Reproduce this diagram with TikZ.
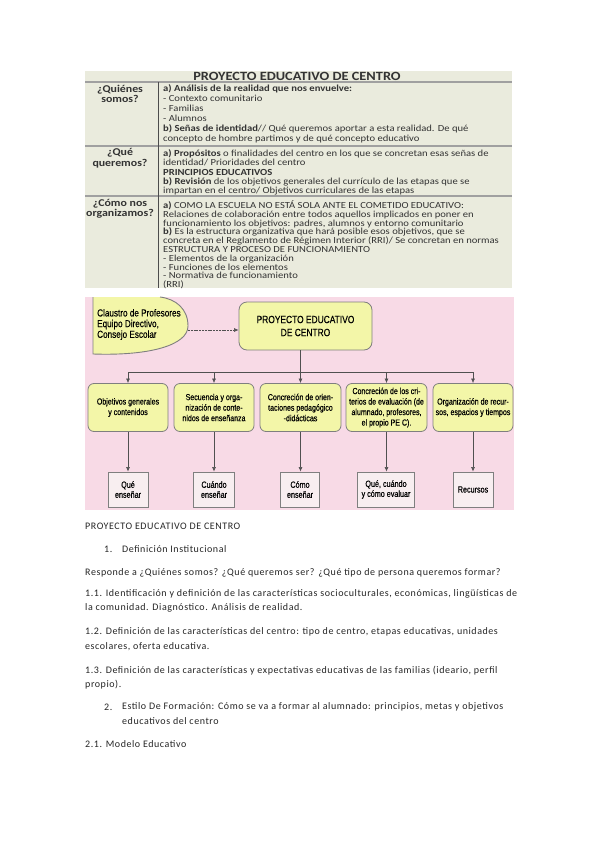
\documentclass[tikz,border=0pt]{standalone}
\usepackage{fontspec}
\setmainfont{Carlito}
\newfontfamily\narrowfont[FakeStretch=0.8, FakeBold=0.35]{Liberation Sans}
\newfontfamily\tabfont[FakeStretch=1.14]{Carlito}
\newfontfamily\bodyfont[LetterSpace=5.6]{Carlito}
\usetikzlibrary{arrows.meta}
\definecolor{tablebg}{HTML}{EAEBDD}
\definecolor{tableline}{HTML}{A0A0A0}
\definecolor{pinkbg}{HTML}{F8DAE6}
\definecolor{yellowbox}{HTML}{F3F6A8}
\definecolor{boxline}{HTML}{7F7F7F}
\definecolor{smallbox}{HTML}{F8EEF0}
\definecolor{txt}{HTML}{333333}
\definecolor{conncol}{HTML}{505050}
\tikzset{
  tabtxt/.style={inner sep=0pt, anchor=north west, align=left, text=txt},
  tabhead/.style={inner sep=0pt, align=center, text=txt, font=\tabfont\bfseries\fontsize{10.4}{10.5}\selectfont},
  ybox/.style={draw=boxline, fill=yellowbox, rounded corners=6pt, line width=0.8pt, align=center, inner sep=1pt, font=\narrowfont\fontsize{8.8}{10.5}\selectfont},
  sbox/.style={draw=boxline, fill=smallbox, line width=0.9pt, align=center, inner sep=1pt, font=\narrowfont\fontsize{9}{10}\selectfont},
  conn/.style={draw=conncol, line width=0.6pt},
  arr/.style={conn, -{Latex[length=4.5pt,width=4pt]}},
  body/.style={anchor=west, inner sep=0pt, text=black!85, font=\bodyfont\fontsize{10}{12}\selectfont},
}
\begin{document}
\begin{tikzpicture}[x=1pt,y=-1pt]
\useasboundingbox[fill=white] (0,0) rectangle (599,848);

% ---------- table ----------
\fill[tablebg] (85,71) rectangle (512,288);
\draw[tableline, line width=1.3pt] (85,82) -- (512,82);
\draw[tableline, line width=1.3pt] (85,146) -- (512,146);
\draw[tableline, line width=1.3pt] (85,196) -- (512,196);
\draw[black!70, line width=0.8pt] (158,82) -- (158,288);
\node[font=\tabfont\bfseries\fontsize{12.6}{13}\selectfont, text=txt, inner sep=0pt] (ttitle) at (297,76.5) {PROYECTO EDUCATIVO DE CENTRO};

\begin{scope}
\clip (85,71) rectangle (512,288);
\node[tabhead] (q1) at (120,94) {¿Quiénes\\somos?};
\node[tabhead] (q2) at (120,158) {¿Qué\\queremos?};
\node[tabhead] (q3) at (120,209) {¿Cómo nos\\organizamos?};
\end{scope}

\node[tabtxt, font=\tabfont\fontsize{9.3}{10.1}\selectfont] (r1) at (163,84) {%
\textbf{a) Análisis de la realidad que nos envuelve:}\\
- Contexto comunitario\\
- Familias\\
- Alumnos\\
\textbf{b) Señas de identidad}// Qué queremos aportar a esta realidad. De qué\\
concepto de hombre partimos y de qué concepto educativo};

\node[tabtxt, font=\tabfont\fontsize{9.3}{9.3}\selectfont] (r2) at (163,149.5) {%
\textbf{a) Propósitos} o finalidades del centro en los que se concretan esas señas de\\
identidad/ Prioridades del centro\\
\textbf{PRINCIPIOS EDUCATIVOS}\\
\textbf{b) Revisión} de los objetivos generales del currículo de las etapas que se\\
impartan en el centro/ Objetivos curriculares de las etapas};

\node[tabtxt, font=\tabfont\fontsize{9.3}{8.8}\selectfont] (r3) at (163,200.5) {%
\textbf{a)} COMO LA ESCUELA NO ESTÁ SOLA ANTE EL COMETIDO EDUCATIVO:\\
Relaciones de colaboración entre todos aquellos implicados en poner en\\
funcionamiento los objetivos: padres, alumnos y entorno comunitario\\
\textbf{b)} Es la estructura organizativa que hará posible esos objetivos, que se\\
concreta en el Reglamento de Régimen Interior (RRI)/ Se concretan en normas\\
ESTRUCTURA Y PROCESO DE FUNCIONAMIENTO\\
- Elementos de la organización\\
- Funciones de los elementos\\
- Normativa de funcionamiento\\
(RRI)};

% ---------- diagram ----------
\fill[pinkbg] (85,297) rectangle (514,510);
\fill[yellowbox] (93,297) -- (93,354) .. controls (150,356) and (188,345) .. (188,326)
   .. controls (188,309) and (176,299) .. (160,297) -- cycle;
\draw[boxline, line width=0.9pt] (93,297) -- (93,354) .. controls (150,356) and (188,345) .. (188,326)
   .. controls (188,309) and (176,299) .. (160,297);
\node[anchor=west, align=left, inner sep=0pt, font=\narrowfont\fontsize{10.2}{10.7}\selectfont] (claustro) at (97,324.5)
  {Claustro de Profesores\\Equipo Directivo,\\Consejo Escolar};
\coordinate (claustroE) at (188,330);

\node[ybox, minimum width=133pt, minimum height=48pt, rounded corners=8pt,
      font=\narrowfont\fontsize{10.5}{13}\selectfont] (pec) at (305.5,326) {PROYECTO EDUCATIVO\\DE CENTRO};
\draw[arr, dash pattern=on 2pt off 0.8pt] (claustroE) -- (claustroE -| pec.west);

\node[ybox, minimum width=80pt, minimum height=48pt] (b1) at (128,407.5) {Objetivos generales\\y contenidos};
\node[ybox, minimum width=80pt, minimum height=48pt] (b2) at (214,407.5) {Secuencia y orga-\\nización de conte-\\nidos de enseñanza};
\node[ybox, minimum width=81pt, minimum height=48pt] (b3) at (300.5,407.5) {Concreción de orien-\\taciones pedagógico\\-didácticas};
\node[ybox, minimum width=81pt, minimum height=48pt] (b4) at (386.5,407.5) {Concreción de los cri-\\terios de evaluación (de\\alumnado, profesores,\\el propio PE C).};
\node[ybox, minimum width=80pt, minimum height=48pt] (b5) at (473,407.5) {Organización de recur-\\sos, espacios y tiempos};

\coordinate (hub) at (300,372);
\draw[conn] (pec.south -| hub) -- (hub);
\draw[conn] (hub -| b1.north) -- (hub -| b5.north);
\foreach \b in {b1,b2,b3,b4,b5} {
  \draw[arr] (hub -| \b.north) -- (\b.north);
}

\node[sbox, minimum width=40pt, minimum height=35pt] (s1) at (128,489.5) {Qué\\enseñar};
\node[sbox, minimum width=41pt, minimum height=35pt] (s2) at (214,489.5) {Cuándo\\enseñar};
\node[sbox, minimum width=39pt, minimum height=35pt] (s3) at (300,489.5) {Cómo\\enseñar};
\node[sbox, minimum width=57pt, minimum height=35pt] (s4) at (386,489.5) {Qué, cuándo\\y cómo evaluar};
\node[sbox, minimum width=40pt, minimum height=35pt] (s5) at (473,489.5) {Recursos};
\foreach \i in {1,...,5} {
  \draw[arr] (b\i.south) -- (b\i.south |- s\i.north);
}

% ---------- body text ----------
\node[body] (t1) at (85,526) {PROYECTO EDUCATIVO DE CENTRO};
\node[body] (n1) at (104,549) {1.};
\node[body] (t2) at (122,549) {Definición Institucional};
\node[body] (t3) at (85,573) {Responde a ¿Quiénes somos? ¿Qué queremos ser? ¿Qué tipo de persona queremos formar?};
\node[body] (t4) at (85,594) {1.1. Identificación y definición de las características socioculturales, económicas, lingüísticas de};
\node[body] (t5) at (85,608) {la comunidad. Diagnóstico. Análisis de realidad.};
\node[body] (t6) at (85,632) {1.2. Definición de las características del centro: tipo de centro, etapas educativas, unidades};
\node[body] (t7) at (85,647) {escolares, oferta educativa.};
\node[body] (t8) at (85,671) {1.3. Definición de las características y expectativas educativas de las familias (ideario, perfil};
\node[body] (t9) at (85,685) {propio).};
\node[body] (n2) at (104,707) {2.};
\node[body] (t10) at (122,707) {Estilo De Formación: Cómo se va a formar al alumnado: principios, metas y objetivos};
\node[body] (t11) at (122,721) {educativos del centro};
\node[body] (t12) at (85,744) {2.1. Modelo Educativo};
\end{tikzpicture}
\end{document}
